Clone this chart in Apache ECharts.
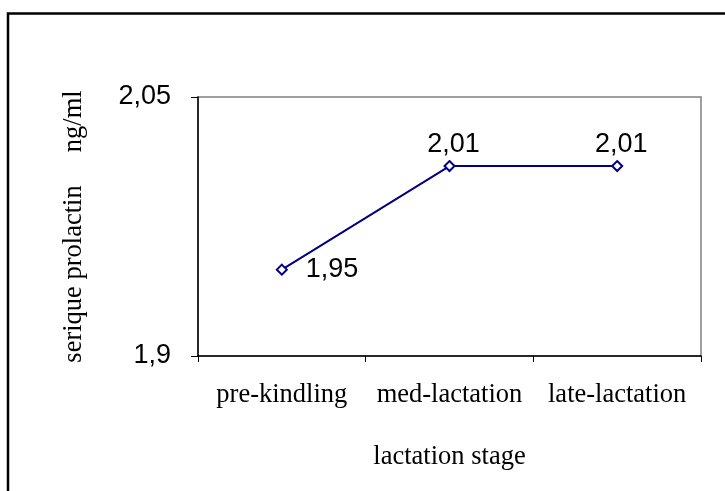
<!DOCTYPE html>
<html>
<head>
<meta charset="utf-8">
<script src="https://cdn.jsdelivr.net/npm/echarts@6/dist/echarts.min.js"></script>
<style>html,body{margin:0;padding:0;background:#fff}#c{width:725px;height:491px}</style>
</head>
<body>
<div id="c"></div>
<script>
var categories = ['pre-kindling', 'med-lactation', 'late-lactation'];
var prolactin = [1.95, 2.01, 2.01];
var yTicks = [1.9, 2.05];
var xTitle = 'lactation stage';
var yTitle = 'serique prolactin     ng/ml';

function comma(v) { return String(v).replace('.', ','); }

var chart = echarts.init(document.getElementById('c'), null, { renderer: 'canvas' });
chart.setOption({
  animation: false,
  backgroundColor: '#fff',
  graphic: [{
    type: 'rect', silent: true,
    shape: { x: 8, y: 13.5, width: 800, height: 600 },
    style: { fill: 'none', stroke: '#000', lineWidth: 2.5 }
  }],
  grid: { left: 198, right: 24, top: 97, bottom: 135, show: true, borderColor: '#808080', borderWidth: 1.5, backgroundColor: 'transparent' },
  xAxis: {
    type: 'category', data: categories, boundaryGap: true,
    name: xTitle, nameLocation: 'middle', nameGap: 88,
    nameTextStyle: { fontFamily: 'Liberation Serif', fontSize: 26.5, color: '#000' },
    axisLine: { lineStyle: { color: '#000', width: 1.5 } },
    axisTick: { show: true, length: 6, lineStyle: { color: '#000' } },
    axisLabel: { interval: 0, hideOverlap: false, margin: 26, fontFamily: 'Liberation Serif', fontSize: 26.5, color: '#000' },
    splitLine: { show: false }
  },
  yAxis: {
    type: 'value', min: 1.9, max: 2.05,
    name: yTitle, nameLocation: 'middle', nameGap: 110, nameRotate: 90,
    nameTextStyle: { fontFamily: 'Liberation Serif', fontSize: 26.5, color: '#000' },
    axisLine: { show: true, lineStyle: { color: '#000', width: 1.5 } },
    axisTick: { show: true, length: 7, customValues: yTicks, lineStyle: { color: '#000' } },
    axisLabel: { margin: 27, customValues: yTicks, fontFamily: 'Liberation Sans', fontSize: 27, color: '#000', formatter: function (v) { return comma(v); } },
    splitLine: { show: false }
  },
  series: [{
    type: 'line',
    symbol: 'diamond', symbolSize: 10,
    lineStyle: { color: '#000080', width: 2 },
    itemStyle: { color: '#fff', borderColor: '#000080', borderWidth: 2 },
    label: {
      show: true, fontFamily: 'Liberation Sans', fontSize: 27, color: '#000',
      formatter: function (p) { return comma(p.value); }
    },
    data: prolactin.map(function (v, i) {
      return i === 0
        ? { value: v, label: { position: 'right', distance: 18 } }
        : { value: v, label: { position: 'top', distance: 2, offset: [4, 0] } };
    })
  }]
});
</script>
</body>
</html>
